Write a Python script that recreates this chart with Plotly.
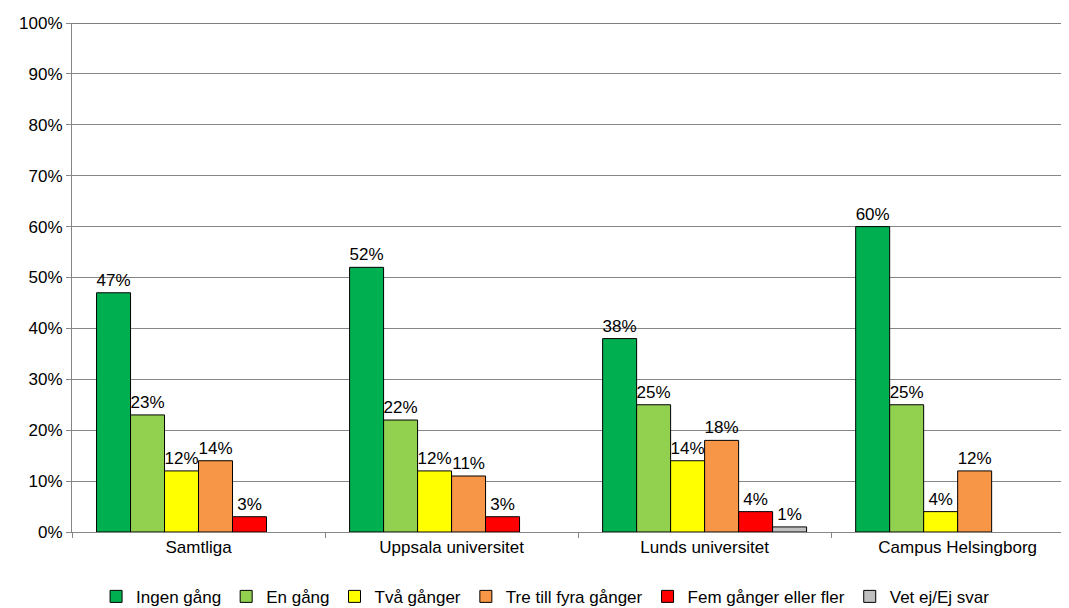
import plotly.graph_objects as go

# Kategorier och andelar (%) per svarsalternativ
categories = ["Samtliga", "Uppsala universitet", "Lunds universitet", "Campus Helsingborg"]
series_names = ["Ingen gång", "En gång", "Två gånger", "Tre till fyra gånger",
                "Fem gånger eller fler", "Vet ej/Ej svar"]
ingen_gang = [47, 52, 38, 60]
en_gang = [23, 22, 25, 25]
tva_ganger = [12, 12, 14, 4]
tre_fyra = [14, 11, 18, 12]
fem_fler = [3, 3, 4, None]
vet_ej = [None, None, 1, None]
y_ticks = list(range(0, 101, 10))

colors = ["#00B050", "#92D050", "#FFFF00", "#F79646", "#FF0000", "#C0C0C0"]
values = [ingen_gang, en_gang, tva_ganger, tre_fyra, fem_fler, vet_ej]

FONT = "Arial, Liberation Sans, sans-serif"

fig = go.Figure()
for name, vals, col in zip(series_names, values, colors):
    fig.add_trace(go.Bar(
        x=categories, y=vals, name=name,
        marker=dict(color=col, line=dict(color="black", width=1)),
        text=[f"{v}%" if v is not None else "" for v in vals],
        textposition="outside", textangle=0, constraintext="none",
        cliponaxis=False,
        textfont=dict(family=FONT, size=17, color="black"),
    ))

# the page body has an 8px margin, so the figure is a bit smaller than the window
fig.update_layout(
    width=1061, height=600,
    margin=dict(l=64, r=0, t=15, b=76, autoexpand=False),
    paper_bgcolor="white", plot_bgcolor="white",
    barmode="group", bargap=0.194, bargroupgap=0,
    font=dict(family=FONT, size=17, color="black"),
    showlegend=True,
    legend=dict(orientation="h", x=0.475, xanchor="center", y=-0.092, yanchor="top",
                font=dict(family=FONT, size=17, color="black"),
                itemwidth=30, tracegroupgap=0),
)
fig.update_xaxes(
    range=[-0.5, 3.44], showgrid=False, showline=True, linecolor="#868686", linewidth=1,
    ticks="outside", tickson="boundaries", ticklen=5, tickcolor="#868686",
    tickfont=dict(family=FONT, size=17, color="black"), automargin=False,
)
fig.update_yaxes(
    range=[0, 100], tickvals=y_ticks, ticktext=[f"{t}%" for t in y_ticks],
    showgrid=True, gridcolor="#868686", gridwidth=1, zeroline=False,
    showline=True, linecolor="#868686", linewidth=1,
    ticks="outside", ticklen=5, tickcolor="#868686",
    tickfont=dict(family=FONT, size=17, color="black"), automargin=False,
)
fig.add_shape(type="line", xref="paper", yref="y", x0=0, x1=1, y0=100, y1=100,
              line=dict(color="black", width=1))

fig.write_html("out.html")
